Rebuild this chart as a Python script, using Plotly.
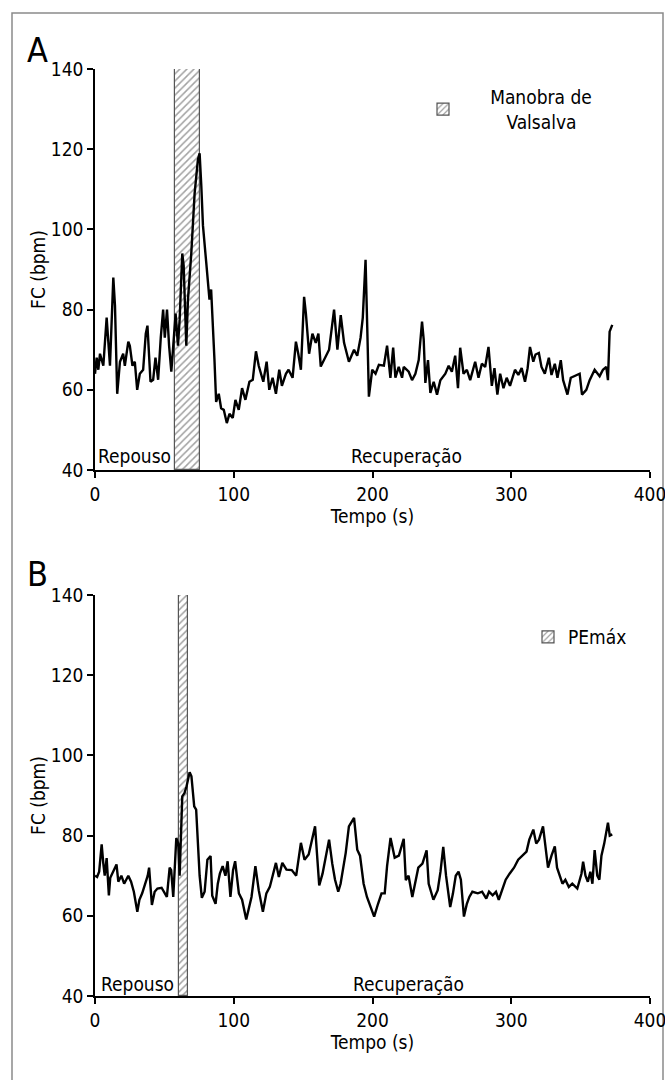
import plotly.graph_objects as go

# ---------------- Data ----------------
# Panel A: Manobra de Valsalva
a_time = [0, 1.2, 2.4, 3.6, 6.0, 8.4, 10.8, 13.2, 14.4, 16.0, 18.0, 20.3, 21.5, 24.0, 25.1,
          27.0, 28.7, 30.4, 32.3, 34.7, 36.6, 37.8, 40.0, 41.9, 43.6, 45.5, 47.4, 49.1, 50.3,
          51.9, 53.4, 55.0, 56.2, 58.1, 59.8, 61.0, 62.9, 63.9, 65.8, 67.0, 69.4, 71.8, 74.2,
          75.4, 76.6, 77.8, 80.1, 82.5, 83.7, 84.9, 86.1, 87.3, 89.2, 90.9, 92.8, 95.0, 96.9,
          99.3, 101.2, 103.6, 106.0, 108.4, 111.3, 113.7, 116.0, 118.0, 119.6, 121.3, 123.7,
          125.6, 128.0, 130.4, 132.8, 134.7, 137.6, 139.5, 142.4, 144.8, 146.5, 148.4, 150.7,
          152.0, 154.3, 156.7, 159.1, 161.0, 162.7, 168.7, 172.3, 174.7, 177.1, 179.5, 183.0,
          186.7, 189.0, 191.4, 193.0, 195.0, 196.2, 197.4, 199.8, 202.2, 204.6, 208.2, 210.5,
          212.9, 214.9, 216.5, 218.9, 221.3, 222.5, 226.1, 228.5, 230.9, 233.3, 235.7, 236.9,
          238.1, 240.0, 241.7, 244.1, 246.5, 248.9, 252.5, 254.9, 257.2, 259.6, 261.6, 263.2,
          265.6, 268.0, 270.4, 274.0, 276.4, 278.8, 281.2, 283.6, 286.0, 287.9, 290.0, 292.0,
          294.4, 296.7, 299.1, 302.7, 305.1, 307.5, 309.9, 311.8, 313.5, 315.9, 317.5, 319.9,
          321.8, 324.2, 327.1, 329.0, 331.4, 333.3, 335.7, 337.4, 340.5, 342.9, 345.7, 349.3,
          351.0, 354.1, 356.5, 360.1, 363.7, 366.1, 368.5, 369.7, 370.9, 372.8]
a_fc = [64, 68, 65, 69, 66, 78, 66, 88, 81, 59, 67, 69, 66, 72, 71,
        66, 67, 60, 64, 65, 74, 76, 62, 62.5, 68, 62.5, 73, 80, 73,
        80, 71, 64.5, 70, 79, 71, 77.5, 94, 91, 71, 82.5, 94, 109, 117.5,
        119, 111, 101, 92, 82.5, 85, 77.5, 67.5, 57, 59, 55.4, 55, 51.7, 54,
        53, 57.5, 55, 60.4, 57.5, 62, 62.5, 69.6, 66, 64, 62, 67,
        60, 63, 59, 65, 61, 64, 65, 63, 72, 69, 65, 83.2,
        79, 69, 74, 71.7, 74, 65.8, 70, 80, 70, 78.6, 71.7, 67,
        70, 68.5, 73, 78, 92.4, 75.7, 58.3, 65, 64, 66.2, 66, 71,
        63, 70.5, 63, 65.7, 63, 65.7, 64.5, 62.4, 64, 67.4, 77, 72.5,
        61.7, 67.4, 59.2, 62, 58.8, 62.4, 64, 66, 64.5, 68.5, 60.4, 70.5,
        64, 65, 62.4, 67, 63, 66.5, 65.7, 70.7, 61, 65.4, 58.8, 64,
        60.4, 63, 61, 65, 63.7, 65.4, 62, 65.4, 70.7, 67, 68.8, 69.2,
        65.7, 64, 68, 63.7, 66.5, 63, 67.4, 62.4, 58.8, 63, 63.4, 64,
        58.8, 60, 62.4, 65, 63.4, 65, 65.7, 62.4, 74.5, 76.2]

# Panel B: PEmáx
b_time = [0, 1.5, 3, 4.8, 6, 7, 8.4, 9, 10, 11, 13, 15.5, 16.8, 19, 21, 24, 26, 28, 30.5,
          32, 34, 36.6, 38, 39, 40, 41, 43, 45, 48, 51.8, 53.8, 54.9, 56.4, 58.6, 60, 61,
          62.9, 64.5, 66, 68.2, 69.5, 71.5, 72.9, 75.4, 77, 79, 81, 83.3, 84.5, 86.9, 88.5,
          90, 92, 94, 95.6, 97.6, 99.5, 101, 103.7, 106, 109, 112.8, 115.6, 118, 121, 123.5,
          126, 130.4, 132.5, 135, 138, 141.8, 145, 148.4, 151, 154, 158.6, 161.6, 164, 166,
          168.7, 171, 173, 175.3, 177, 180.7, 183, 186.7, 189, 191, 193.6, 196, 198, 201.2,
          204, 206.5, 208.8, 210.5, 213, 216, 219, 222.5, 224, 226, 228.7, 231, 233, 236,
          239, 240.5, 243.9, 247, 249, 251, 253, 256, 258, 260, 262, 263.7, 265.9, 268,
          269.8, 272, 275.9, 279, 282, 284, 286.6, 289, 291, 294.2, 296, 298.8, 302, 305,
          308, 311, 313, 315.9, 318, 320, 322.9, 325, 326.5, 329, 331.4, 333, 336.9, 339,
          341.5, 344, 347.6, 350.6, 351.8, 353.5, 355.2, 357, 358.5, 360.1, 362, 363.5,
          365, 367, 369.7, 371, 372.8]
b_fc = [70, 69.7, 71, 77.8, 73, 70, 74.4, 70, 65.1, 69.5, 71, 72.8, 68.5, 70, 68, 70, 68.5, 66, 61,
        64, 65.6, 68.9, 70, 72, 66, 62.7, 66, 66.8, 67, 64.7, 72, 71.4, 64.7, 79.4, 78, 70,
        89.8, 90.6, 92.3, 95.8, 94.8, 87.3, 86.5, 70, 64.5, 66, 74, 74.9, 65, 63, 68,
        70.5, 72.4, 70, 73.6, 64.7, 71.4, 73.6, 65.6, 64, 59.1, 64.7, 72.4, 66.4, 61, 65.6,
        67.2, 73.2, 69.7, 73.2, 71.5, 71.4, 70, 78.2, 74, 75.3, 82.3, 67.6, 70.5, 74,
        79, 73, 69, 66, 68, 75.7, 82.3, 84.4, 76.5, 75, 68, 64.7, 63, 59.8,
        63, 65.6, 65.6, 72.4, 79.4, 74.5, 75, 79.2, 68.9, 70, 64.7, 69, 72, 73,
        76.3, 68, 64, 66.4, 71, 77.2, 70, 62.2, 65.6, 70, 71, 69, 59.8, 63,
        64.7, 66, 65.6, 66, 64.3, 66, 65.1, 66, 64, 67.2, 69, 70.5, 72, 74,
        75, 76, 79, 81.5, 78, 79, 82.3, 76, 72, 75, 77.3, 72, 68, 69,
        67.2, 68, 66.8, 70.5, 73.5, 70, 68.5, 71, 68, 76.4, 70, 69,
        75, 78, 83.2, 80, 80.3]

# Manoeuvre periods (s)
a_bar_start, a_bar_end = 58.0, 75.5
b_bar_start, b_bar_end = 60.5, 67.0
bar_bottom, bar_top = 40, 140

x_ticks = [0, 100, 200, 300, 400]
y_ticks = [40, 60, 80, 100, 120, 140]

# ---------------- Figure ----------------
W, H = 665, 1080
FONT = "DejaVu Sans Condensed, Liberation Sans Narrow, Arial Narrow, sans-serif"
FS = 19
NB = "&nbsp;"


def px_x(p):
    return p / W


def px_y(p):
    return 1 - p / H


fig = go.Figure()

pattern = dict(shape="/", fgcolor="#444444", bgcolor="white", size=5, solidity=0.3)

fig.add_trace(go.Bar(
    x=[(a_bar_start + a_bar_end) / 2], y=[bar_top - bar_bottom], base=[bar_bottom],
    width=[a_bar_end - a_bar_start], xaxis="x", yaxis="y",
    marker=dict(color="white", line=dict(color="#555555", width=1.2), pattern=pattern),
    name=NB * 5 + "Manobra de<br>" + NB * 8 + "Valsalva", legend="legend", showlegend=True,
    hoverinfo="skip"))
fig.add_trace(go.Scatter(
    x=a_time, y=a_fc, mode="lines", line=dict(color="black", width=2.4),
    xaxis="x", yaxis="y", showlegend=False))

fig.add_trace(go.Bar(
    x=[(b_bar_start + b_bar_end) / 2], y=[bar_top - bar_bottom], base=[bar_bottom],
    width=[b_bar_end - b_bar_start], xaxis="x2", yaxis="y2",
    marker=dict(color="white", line=dict(color="#555555", width=1.2), pattern=pattern),
    name="PEmáx", legend="legend2", showlegend=True, hoverinfo="skip"))
fig.add_trace(go.Scatter(
    x=b_time, y=b_fc, mode="lines", line=dict(color="black", width=2.4),
    xaxis="x2", yaxis="y2", showlegend=False))

axis_common = dict(
    showline=True, linecolor="black", linewidth=1.5, ticks="outside", ticklen=6,
    tickwidth=1.5, tickcolor="black", showgrid=False, zeroline=False, automargin=False,
    ticklabeloverflow="allow",
    tickfont=dict(family=FONT, size=FS, color="black"), fixedrange=True)

xdom = [px_x(95), px_x(650)]
fig.update_layout(
    width=W, height=H, margin=dict(l=0, r=0, t=0, b=0, autoexpand=False),
    paper_bgcolor="white", plot_bgcolor="white",
    font=dict(family=FONT, size=FS, color="black"),
    bargap=0,
    xaxis=dict(axis_common, domain=xdom, range=[0, 400], tickvals=x_ticks, anchor="y",
               title=dict(text="Tempo (s)", font=dict(family=FONT, size=FS), standoff=6)),
    yaxis=dict(axis_common, domain=[px_y(470), px_y(69)], range=[40, 140], tickvals=y_ticks,
               anchor="x", title=dict(text="FC (bpm)", font=dict(family=FONT, size=FS), standoff=0)),
    xaxis2=dict(axis_common, domain=xdom, range=[0, 400], tickvals=x_ticks, anchor="y2",
                title=dict(text="Tempo (s)", font=dict(family=FONT, size=FS), standoff=6)),
    yaxis2=dict(axis_common, domain=[px_y(996), px_y(595)], range=[40, 140], tickvals=y_ticks,
                anchor="x2", title=dict(text="FC (bpm)", font=dict(family=FONT, size=FS), standoff=0)),
    legend=dict(x=px_x(423), y=px_y(78), xanchor="left", yanchor="top", valign="middle",
                bgcolor="rgba(0,0,0,0)", font=dict(family=FONT, size=FS), itemwidth=30),
    legend2=dict(x=px_x(528), y=px_y(618), xanchor="left", yanchor="top", valign="middle",
                 bgcolor="rgba(0,0,0,0)", font=dict(family=FONT, size=FS), itemwidth=30),
    shapes=[dict(type="rect", xref="paper", yref="paper", x0=px_x(12), x1=px_x(663),
                 y0=-0.02, y1=px_y(13), line=dict(color="#8a8a8a", width=1.5),
                 fillcolor="rgba(0,0,0,0)", layer="below")],
    annotations=[
        dict(text="A", xref="paper", yref="paper", x=px_x(25), y=px_y(50), xanchor="left",
             yanchor="middle", showarrow=False, font=dict(family=FONT, size=34)),
        dict(text="B", xref="paper", yref="paper", x=px_x(25), y=px_y(574), xanchor="left",
             yanchor="middle", showarrow=False, font=dict(family=FONT, size=34)),
        dict(text="Repouso", xref="x", yref="y", x=28.4, y=43.6, showarrow=False,
             xanchor="center", yanchor="middle", font=dict(family=FONT, size=FS)),
        dict(text="Recuperação", xref="x", yref="y", x=224.5, y=43.6, showarrow=False,
             xanchor="center", yanchor="middle", font=dict(family=FONT, size=FS)),
        dict(text="Repouso", xref="x2", yref="y2", x=30.5, y=43.0, showarrow=False,
             xanchor="center", yanchor="middle", font=dict(family=FONT, size=FS)),
        dict(text="Recuperação", xref="x2", yref="y2", x=226.0, y=43.0, showarrow=False,
             xanchor="center", yanchor="middle", font=dict(family=FONT, size=FS)),
    ],
)

fig.write_html(
    "out.html",
    config={"displayModeBar": False},
    post_script="document.body.style.margin='0';document.body.style.padding='0';"
                "document.documentElement.style.overflow='hidden';",
)
